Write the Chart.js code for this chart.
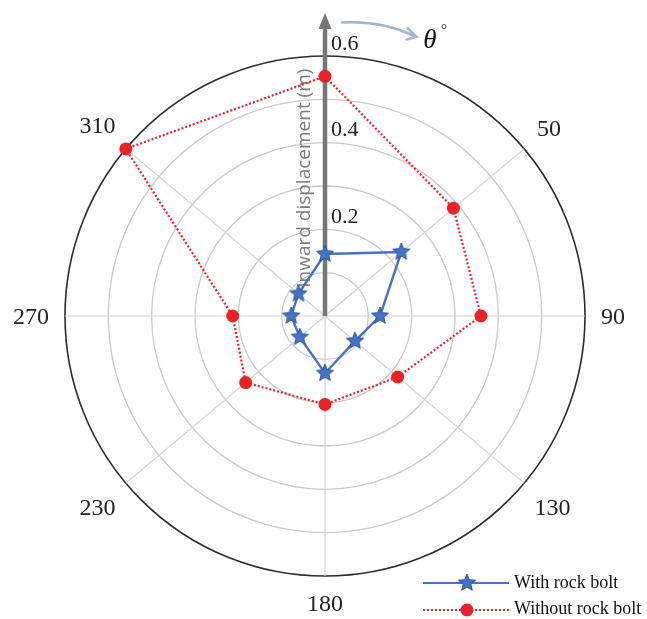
<!DOCTYPE html>
<html>
<head>
<meta charset="utf-8">
<script src="https://cdn.jsdelivr.net/npm/chart.js@4/dist/chart.umd.min.js"></script>
<style>
  html, body { margin: 0; padding: 0; background: #ffffff; }
  #wrap { width: 647px; height: 619px; }
</style>
</head>
<body>
<div id="wrap"><canvas id="c" width="647" height="619"></canvas></div>
<script>
// Measurement directions (degrees, clockwise from the top) and their labels
const directions = [0, 50, 90, 130, 180, 230, 270, 310];
const directionLabels = ['', '50', '90', '130', '180', '230', '270', '310'];

// Inward displacement (m) at each direction
const withBolt    = [0.143, 0.230, 0.127, 0.090, 0.132, 0.076, 0.078, 0.080];
const withoutBolt = [0.553, 0.387, 0.360, 0.219, 0.204, 0.239, 0.213, 0.600];

const seriesNames = ['With rock bolt', 'Without rock bolt'];
const radialTickValues = [0.2, 0.4, 0.6];
const radialTickLabels = ['0.2', '0.4', '0.6'];
const axisTitle = 'Inward displacement (m)';

// The radar scale is split into 10-degree slots so that the uneven
// directions land on their true angles; unused slots stay empty.
const slotStep = 10;
const slotAngles = Array.from({ length: 360 / slotStep }, (_, i) => i * slotStep);
function toSlots(values) {
  const out = slotAngles.map(() => null);
  directions.forEach((d, i) => { out[d / slotStep] = values[i]; });
  return out;
}
const spokeSlots = directions.map(d => d / slotStep);

const BLUE = '#4472c4';
const RED = '#ec2027';
const SERIF = '"Liberation Serif", "DejaVu Serif", serif';

// Filled five-point star used as the marker of the bolted series
function makeStar(size, fill, stroke) {
  const cv = document.createElement('canvas');
  cv.width = size; cv.height = size;
  const g = cv.getContext('2d');
  const c = size / 2, ro = size / 2 - 1, ri = ro * 0.45;
  g.beginPath();
  for (let k = 0; k < 10; k++) {
    const r = k % 2 === 0 ? ro : ri;
    const a = -Math.PI / 2 + k * Math.PI / 5;
    const x = c + r * Math.cos(a), y = c + r * Math.sin(a);
    k === 0 ? g.moveTo(x, y) : g.lineTo(x, y);
  }
  g.closePath();
  g.fillStyle = fill; g.fill();
  g.lineWidth = 1; g.strokeStyle = stroke; g.stroke();
  return cv;
}
const starMarker = makeStar(20, BLUE, '#2f5597');

const polarDecor = {
  id: 'polarDecor',
  beforeDatasetsDraw(chart) {
    const s = chart.scales.r;
    const ctx = chart.ctx;
    const cx = s.xCenter, cy = s.yCenter, R = s.drawingArea;
    ctx.save();

    // rotated axis title
    ctx.save();
    ctx.translate(cx - 20, cy - R * 0.53);
    ctx.rotate(-Math.PI / 2);
    ctx.font = '19px "Open Sans", "Noto Sans", sans-serif';
    ctx.fillStyle = '#7a7a7a';
    ctx.textAlign = 'center';
    ctx.textBaseline = 'middle';
    ctx.fillText(axisTitle, 0, 0);
    ctx.restore();

    // radial axis arrow
    const tipY = 13, baseY = 28;
    ctx.strokeStyle = '#767676';
    ctx.lineWidth = 4.5;
    ctx.beginPath();
    ctx.moveTo(cx, cy);
    ctx.lineTo(cx, baseY);
    ctx.stroke();
    ctx.fillStyle = '#767676';
    ctx.beginPath();
    ctx.moveTo(cx, tipY);
    ctx.lineTo(cx + 6.5, baseY + 1);
    ctx.lineTo(cx - 6.5, baseY + 1);
    ctx.closePath();
    ctx.fill();

    // radial tick labels
    ctx.font = '22px ' + SERIF;
    ctx.fillStyle = '#222222';
    ctx.textAlign = 'left';
    ctx.textBaseline = 'middle';
    radialTickValues.forEach((v, i) => {
      const y = cy - s.getDistanceFromCenterForValue(v);
      ctx.fillText(radialTickLabels[i], cx + 6, y - 12);
    });
    ctx.restore();
  },
  afterDraw(chart) {
    const s = chart.scales.r;
    const ctx = chart.ctx;
    const cx = s.xCenter, cy = s.yCenter, R = s.drawingArea;
    ctx.save();

    // direction labels outside the outer ring
    ctx.font = '24px ' + SERIF;
    ctx.fillStyle = '#222222';
    ctx.textAlign = 'center';
    ctx.textBaseline = 'middle';
    directions.forEach((d, i) => {
      const txt = directionLabels[i];
      if (!txt) return;
      const a = d * Math.PI / 180;
      const w = ctx.measureText(txt).width, h = 22;
      const ext = Math.abs(Math.sin(a)) * w / 2 + Math.abs(Math.cos(a)) * h / 2;
      const p = s.getPointPosition(d / slotStep, R + 16 + ext);
      ctx.fillText(txt, p.x, p.y + 2);
    });

    // curved arrow showing the direction of theta
    ctx.strokeStyle = '#a3b6ca';
    ctx.lineWidth = 2.5;
    ctx.lineCap = 'round';
    ctx.beginPath();
    ctx.moveTo(cx + 17, 22.5);
    ctx.quadraticCurveTo(cx + 56, 20, cx + 91, 36.5);
    ctx.stroke();
    ctx.beginPath();
    ctx.moveTo(cx + 82.5, 28);
    ctx.lineTo(cx + 91.5, 36.8);
    ctx.lineTo(cx + 81.5, 39.5);
    ctx.stroke();

    // theta symbol
    ctx.fillStyle = '#111111';
    ctx.font = 'italic 27px ' + SERIF;
    ctx.textAlign = 'center';
    ctx.fillText('\u03b8', cx + 105, 41);
    ctx.font = '15px ' + SERIF;
    ctx.fillText('\u00b0', cx + 119, 30);

    // legend
    const lx0 = 423, lx1 = 509, mx = 467, tx = 514;
    const y1 = 583, y2 = 610;
    ctx.lineCap = 'butt';
    ctx.strokeStyle = BLUE;
    ctx.lineWidth = 2.2;
    ctx.setLineDash([]);
    ctx.beginPath(); ctx.moveTo(lx0, y1); ctx.lineTo(lx1, y1); ctx.stroke();
    ctx.drawImage(starMarker, mx - starMarker.width / 2, y1 - starMarker.height / 2);
    ctx.strokeStyle = RED;
    ctx.lineWidth = 2.2;
    ctx.setLineDash([2, 2]);
    ctx.beginPath(); ctx.moveTo(lx0, y2); ctx.lineTo(lx1, y2); ctx.stroke();
    ctx.setLineDash([]);
    ctx.fillStyle = RED;
    ctx.beginPath(); ctx.arc(mx, y2, 6.5, 0, Math.PI * 2); ctx.fill();

    ctx.font = '18px ' + SERIF;
    ctx.fillStyle = '#111111';
    ctx.textAlign = 'left';
    ctx.textBaseline = 'middle';
    ctx.fillText(seriesNames[0], tx, y1);
    ctx.fillText(seriesNames[1], tx, y2 - 1);
    ctx.restore();
  }
};

new Chart(document.getElementById('c'), {
  type: 'radar',
  data: {
    labels: slotAngles.map(String),
    datasets: [
      {
        label: seriesNames[1],
        data: toSlots(withoutBolt),
        spanGaps: true,
        borderColor: RED,
        borderWidth: 2.2,
        borderDash: [2, 2],
        backgroundColor: 'transparent',
        fill: false,
        pointStyle: 'circle',
        pointRadius: 6.5,
        pointBackgroundColor: RED,
        pointBorderColor: RED,
        pointBorderWidth: 0,
        tension: 0
      },
      {
        label: seriesNames[0],
        data: toSlots(withBolt),
        spanGaps: true,
        borderColor: BLUE,
        borderWidth: 2.4,
        backgroundColor: 'transparent',
        fill: false,
        pointStyle: starMarker,
        pointRadius: 10,
        tension: 0
      }
    ]
  },
  options: {
    responsive: false,
    animation: false,
    events: [],
    layout: { padding: { left: 65, right: 62, top: 56, bottom: 43 } },
    plugins: { legend: { display: false }, tooltip: { enabled: false } },
    scales: {
      r: {
        min: 0,
        max: 0.6,
        ticks: { display: false, stepSize: 0.1 },
        pointLabels: { display: false },
        grid: {
          circular: true,
          color: ctx => (ctx.tick && ctx.tick.value > 0.55 ? '#2b2b2b' : '#c9c9c9'),
          lineWidth: ctx => (ctx.tick && ctx.tick.value > 0.55 ? 1.6 : 1.3)
        },
        angleLines: {
          display: true,
          color: '#d2d2d2',
          lineWidth: ctx => (spokeSlots.includes(ctx.index) ? 1.2 : 0)
        }
      }
    }
  },
  plugins: [polarDecor]
});
</script>
</body>
</html>
